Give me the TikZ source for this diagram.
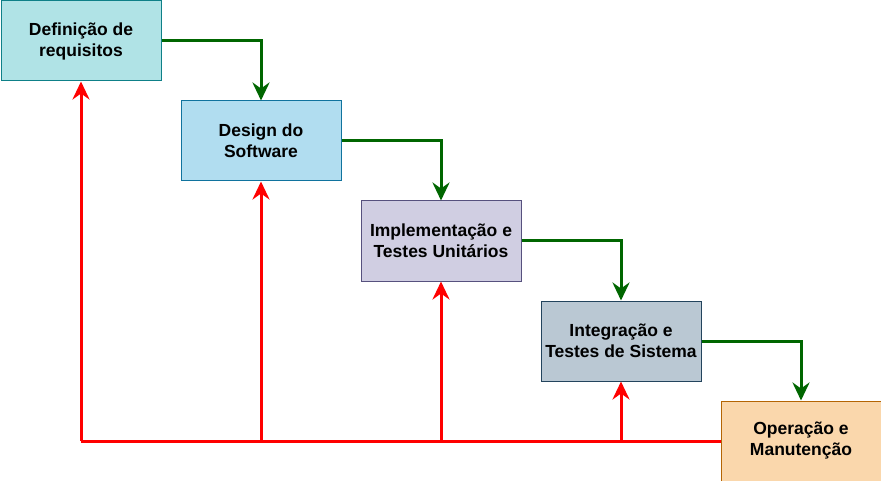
\documentclass[tikz,border=0pt]{standalone}
\usepackage{fontspec}
\setmainfont{Liberation Sans}
\usetikzlibrary{arrows.meta}
\definecolor{gArrow}{HTML}{006600}
\definecolor{rArrow}{HTML}{FF0000}
\begin{document}
\begin{tikzpicture}[x=1pt,y=-1pt,
  stagebox/.style={draw, line width=1pt, minimum width=160pt, minimum height=80pt, inner sep=0pt, align=center, font=\fontsize{17.5}{21}\selectfont\bfseries, anchor=north west},
  fwd/.style={draw=gArrow, line width=3pt, -{Stealth[length=18pt,width=17pt,inset=6pt]}},
  back/.style={draw=rArrow, line width=3pt, -{Stealth[length=18pt,width=17pt,inset=6pt]}},
  backline/.style={draw=rArrow, line width=3pt}]
\useasboundingbox (0,0) rectangle (881,481);
\node[stagebox, fill={rgb,255:red,176;green,227;blue,230}, draw={rgb,255:red,14;green,128;blue,136}] (def) at (0.5,0.5) {Definição de\\requisitos};
\node[stagebox, fill={rgb,255:red,177;green,221;blue,240}, draw={rgb,255:red,16;green,115;blue,158}] (des) at (180.5,100.5) {Design do\\Software};
\node[stagebox, fill={rgb,255:red,208;green,206;blue,226}, draw={rgb,255:red,86;green,81;blue,126}] (imp) at (360.5,200.5) {Implementação e\\Testes Unitários};
\node[stagebox, fill={rgb,255:red,186;green,200;blue,211}, draw={rgb,255:red,35;green,68;blue,93}] (int) at (540.5,300.5) {Integração e\\Testes de Sistema};
\node[stagebox, fill={rgb,255:red,250;green,215;blue,172}, draw={rgb,255:red,180;green,101;blue,4}] (op) at (720.5,400.5) {Operação e\\Manutenção};
% forward (green)
\draw[fwd] (def.east) -| (des.north);
\draw[fwd] (des.east) -| (imp.north);
\draw[fwd] (imp.east) -| (int.north);
\draw[fwd] (int.east) -| (op.north);
% feedback (red)
\draw[backline] (op.west) -- (op.west -| def.south);
\draw[back] (op.west -| def.south) -- (def.south);
\draw[back] (op.west -| des.south) -- (des.south);
\draw[back] (op.west -| imp.south) -- (imp.south);
\draw[back] (op.west -| int.south) -- (int.south);
\end{tikzpicture}
\end{document}
